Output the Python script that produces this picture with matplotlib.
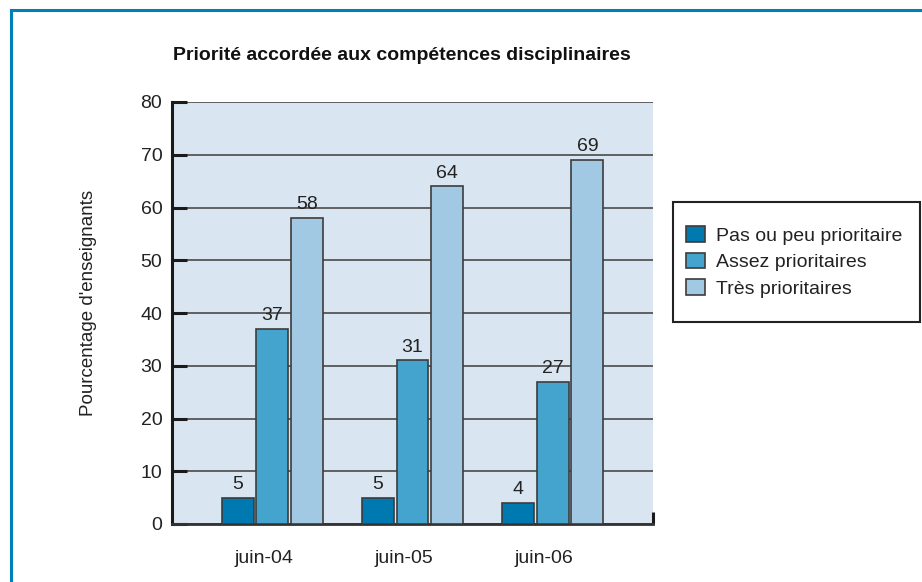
import numpy as np
import matplotlib
matplotlib.use("Agg")
import matplotlib.pyplot as plt
from matplotlib.lines import Line2D
from matplotlib.patches import Rectangle

# -------------------------------------------------------------------------------------
# Data
categories = ['juin-04', 'juin-05', 'juin-06']
series_names = ['Pas ou peu prioritaire', 'Assez prioritaires', 'Très prioritaires']
pas_ou_peu = [5, 5, 4]
assez = [37, 31, 27]
tres = [58, 64, 69]
y_ticks = [0, 10, 20, 30, 40, 50, 60, 70, 80]
# -------------------------------------------------------------------------------------

plt.rcParams['font.family'] = ['Liberation Sans', 'DejaVu Sans']

W, H = 922, 582
colors = ['#0079B0', '#45A4CD', '#A2C9E3']
edge = '#3c3c3c'
bg = '#D9E6F2'
frame_blue = '#0080B8'

fig = plt.figure(figsize=(W / 100, H / 100), dpi=100)
ax = fig.add_axes([172 / W, 1 - 524 / H, (653 - 172) / W, (524 - 102) / H])
ax.set_facecolor(bg)

x = np.arange(len(categories))
step = 0.246
width = 0.226
series = [pas_ou_peu, assez, tres]
for i, (vals, col, name) in enumerate(zip(series, colors, series_names)):
    bars = ax.bar(x + (i - 1) * step, vals, width, color=col, edgecolor=edge,
                  linewidth=1.2, label=name, zorder=3)
    for b, v in zip(bars, vals):
        ax.text(b.get_x() + b.get_width() / 2, v + 0.9, str(v), ha='center',
                va='bottom', fontsize=14, color='#222222')

ax.set_xlim(-0.714, 2.714)
ax.set_ylim(0, 80)
ax.set_yticks(y_ticks)
ax.set_xticks(x - 0.06)
ax.set_xticklabels(categories, fontsize=14, color='#222222')
ax.tick_params(axis='x', length=0, pad=19)
ax.tick_params(axis='y', direction='in', length=11, width=2.2, labelsize=14,
               pad=7, color='#1a1a1a', labelcolor='#222222')
ax.set_xticks([2.714], minor=True)
ax.tick_params(axis='x', which='minor', direction='in', length=9, width=2.2, color='#1a1a1a')

ax.yaxis.grid(True, color='#555555', linewidth=1.3, zorder=1)
ax.set_axisbelow(True)
for s in ['top', 'right']:
    ax.spines[s].set_visible(False)
ax.spines['left'].set_linewidth(2.2)
ax.spines['left'].set_color('#1a1a1a')
ax.spines['bottom'].set_linewidth(2.0)
ax.spines['bottom'].set_color('#333333')

ax.set_ylabel("Pourcentage d'enseignants", fontsize=13.5, color='#222222')
ax.yaxis.set_label_coords((97 - 172) / (653 - 172), (524 - 303) / (524 - 102))

fig.text(402 / W, 1 - 55 / H, 'Priorité accordée aux compétences disciplinaires',
         fontsize=14, fontweight='bold', va='center', ha='center', color='#111111')

# legend box drawn by hand, entries placed inside
fig.add_artist(Rectangle((673 / W, 1 - 322 / H), (920 - 673) / W, (322 - 202) / H,
                         transform=fig.transFigure, facecolor='white',
                         edgecolor='#222222', linewidth=1.5))
leg = fig.legend(loc='center left', bbox_to_anchor=(686 / W, 1 - 262 / H),
                 fontsize=14, frameon=False, handlelength=1.0, handleheight=0.85,
                 handletextpad=0.55, labelspacing=0.4, borderpad=0, borderaxespad=0)
for t in leg.get_texts():
    t.set_color('#222222')

# blue frame
fig.add_artist(Line2D([11 / W, 1], [1 - 10 / H, 1 - 10 / H], color=frame_blue, linewidth=2.2))
fig.add_artist(Line2D([11 / W, 11 / W], [0, 1 - 10 / H], color=frame_blue, linewidth=2.2))

fig.savefig('out.png', dpi=100)
